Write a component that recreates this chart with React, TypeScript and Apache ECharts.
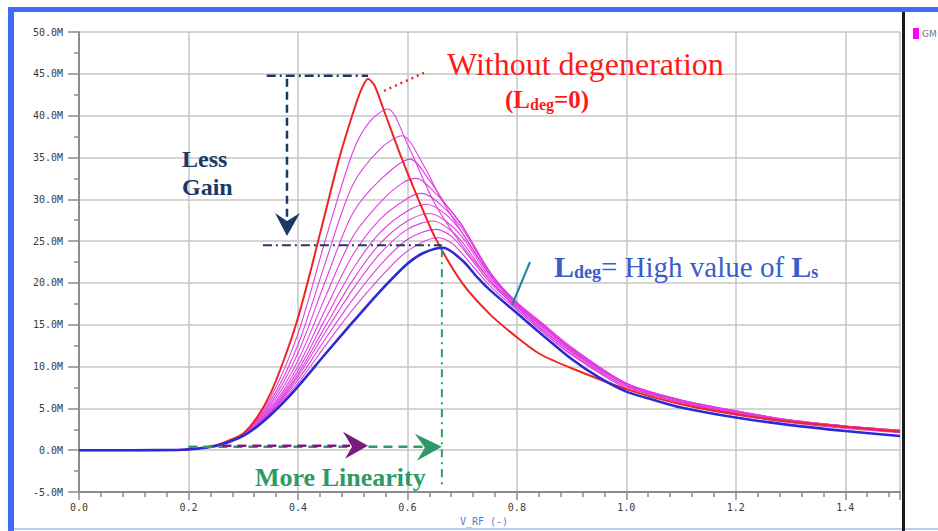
import { useEffect, useRef } from 'react';
import * as echarts from 'echarts';

type Pt = [number, number];

// GM curves (values in M), x = V_RF
const redCurve: Pt[] = [
  [0, 0], [0.1, 0], [0.18, 0.03], [0.2, 0.1], [0.22, 0.25], [0.25, 0.6], [0.275, 1.2], [0.3, 2.0],
  [0.325, 3.9], [0.35, 6.8], [0.375, 10.9], [0.4, 15.8], [0.425, 21.9], [0.45, 28.4], [0.475, 34.8],
  [0.5, 40.2], [0.515, 43.0], [0.528, 44.4], [0.54, 43.6], [0.555, 41.0], [0.589, 35.0], [0.62, 30.0],
  [0.65, 25.5], [0.7, 20.0], [0.75, 16.3], [0.8, 13.5], [0.842, 11.5], [0.9, 9.8], [1.0, 7.3], [1.1, 5.5],
  [1.2, 4.3], [1.3, 3.4], [1.4, 2.8], [1.5, 2.2],
];

const blueCurve: Pt[] = [
  [0, 0], [0.1, 0], [0.18, 0.03], [0.2, 0.08], [0.22, 0.2], [0.25, 0.5], [0.275, 1.0], [0.3, 1.7],
  [0.325, 2.8], [0.35, 4.2], [0.375, 5.8], [0.4, 7.6], [0.45, 11.5], [0.5, 15.3], [0.55, 19.0],
  [0.6, 22.3], [0.63, 23.6], [0.665, 24.2], [0.7, 22.7], [0.73, 20.5], [0.75, 19.2], [0.8, 16.4],
  [0.85, 13.6], [0.9, 10.9], [0.95, 8.7], [1.0, 7.0], [1.05, 6.0], [1.1, 5.1], [1.2, 3.9], [1.3, 3.0],
  [1.4, 2.3], [1.5, 1.7],
];

const magenta1: Pt[] = [
  [0, 0], [0.1, 0], [0.2, 0.1], [0.25, 0.55], [0.3, 1.9], [0.35, 6.3], [0.4, 13.9], [0.45, 25.1],
  [0.5, 35.6], [0.53, 39.2], [0.564, 40.8], [0.6, 36.6], [0.65, 29.5], [0.7, 24.5], [0.75, 20.4],
  [0.8, 16.9], [0.85, 14.0], [0.9, 11.5], [1.0, 7.6], [1.1, 5.7], [1.2, 4.4], [1.3, 3.4], [1.4, 2.7], [1.5, 2.2],
];
const magenta2: Pt[] = [
  [0, 0], [0.1, 0], [0.2, 0.1], [0.25, 0.55], [0.3, 1.9], [0.35, 5.9], [0.4, 12.6], [0.45, 22.4],
  [0.5, 31.7], [0.55, 36.0], [0.59, 37.6], [0.63, 34.0], [0.66, 30.2], [0.7, 26.0], [0.75, 21.0],
  [0.8, 17.2], [0.85, 14.3], [0.9, 11.8], [1.0, 7.8], [1.1, 5.8], [1.2, 4.5], [1.3, 3.5], [1.4, 2.8], [1.5, 2.3],
];
const magenta3: Pt[] = [
  [0, 0], [0.1, 0], [0.2, 0.1], [0.25, 0.55], [0.3, 1.85], [0.35, 5.6], [0.4, 11.6], [0.45, 20.2],
  [0.5, 28.3], [0.55, 32.3], [0.605, 34.8], [0.64, 32.3], [0.67, 29.4], [0.7, 26.8], [0.75, 21.4],
  [0.8, 17.4], [0.85, 14.6], [0.9, 12.0], [1.0, 7.9], [1.1, 5.9], [1.2, 4.6], [1.3, 3.6], [1.4, 2.9], [1.5, 2.35],
];
const magenta4: Pt[] = [
  [0, 0], [0.1, 0], [0.2, 0.1], [0.25, 0.55], [0.3, 1.8], [0.35, 5.3], [0.4, 10.7], [0.45, 18.3],
  [0.5, 25.5], [0.55, 29.6], [0.59, 31.9], [0.617, 32.5], [0.65, 30.8], [0.675, 29.0], [0.7, 26.9],
  [0.75, 21.4], [0.8, 17.6], [0.85, 14.8], [0.9, 12.2], [1.0, 8.0], [1.1, 6.0], [1.2, 4.7], [1.3, 3.6],
  [1.4, 2.9], [1.5, 2.4],
];
const magenta5: Pt[] = [
  [0, 0], [0.1, 0], [0.2, 0.1], [0.25, 0.55], [0.3, 1.8], [0.35, 5.0], [0.4, 10.0], [0.45, 16.8],
  [0.5, 23.3], [0.55, 27.6], [0.6, 30.1], [0.627, 30.7], [0.66, 29.4], [0.7, 26.5], [0.75, 21.2],
  [0.8, 17.7], [0.85, 15.0], [0.9, 12.3], [1.0, 8.0], [1.1, 6.0], [1.2, 4.7], [1.3, 3.6], [1.4, 2.9], [1.5, 2.4],
];
const magenta6: Pt[] = [
  [0, 0], [0.1, 0], [0.2, 0.1], [0.25, 0.55], [0.3, 1.8], [0.35, 4.9], [0.4, 9.5], [0.45, 15.7],
  [0.5, 21.6], [0.55, 26.0], [0.6, 28.6], [0.635, 29.4], [0.67, 28.2], [0.7, 26.0], [0.75, 21.0],
  [0.8, 17.6], [0.85, 14.9], [0.9, 12.2], [1.0, 8.0], [1.1, 6.0], [1.2, 4.7], [1.3, 3.6], [1.4, 2.9], [1.5, 2.4],
];
const magenta7: Pt[] = [
  [0, 0], [0.1, 0], [0.2, 0.1], [0.25, 0.55], [0.3, 1.75], [0.35, 4.7], [0.4, 9.1], [0.45, 14.8],
  [0.5, 20.3], [0.55, 24.7], [0.6, 27.4], [0.641, 28.3], [0.67, 27.4], [0.7, 25.5], [0.75, 20.7],
  [0.8, 17.5], [0.85, 14.7], [0.9, 12.1], [1.0, 7.9], [1.1, 5.9], [1.2, 4.6], [1.3, 3.5], [1.4, 2.8], [1.5, 2.3],
];
const magenta8: Pt[] = [
  [0, 0], [0.1, 0], [0.2, 0.1], [0.25, 0.55], [0.3, 1.75], [0.35, 4.6], [0.4, 8.8], [0.45, 14.1],
  [0.5, 19.2], [0.55, 23.5], [0.6, 26.4], [0.647, 27.4], [0.675, 26.5], [0.7, 24.9], [0.75, 20.4],
  [0.8, 17.3], [0.85, 14.5], [0.9, 11.9], [1.0, 7.8], [1.1, 5.8], [1.2, 4.5], [1.3, 3.5], [1.4, 2.8], [1.5, 2.3],
];
const magenta9: Pt[] = [
  [0, 0], [0.1, 0], [0.2, 0.1], [0.25, 0.55], [0.3, 1.75], [0.35, 4.5], [0.4, 8.4], [0.45, 13.3],
  [0.5, 18.0], [0.55, 22.1], [0.6, 25.2], [0.653, 26.4], [0.68, 25.6], [0.7, 24.2], [0.75, 20.1],
  [0.8, 17.1], [0.85, 14.2], [0.9, 11.7], [1.0, 7.6], [1.1, 5.7], [1.2, 4.4], [1.3, 3.4], [1.4, 2.7], [1.5, 2.2],
];
const magenta10: Pt[] = [
  [0, 0], [0.1, 0], [0.2, 0.1], [0.25, 0.55], [0.3, 1.7], [0.35, 4.4], [0.4, 8.0], [0.45, 12.5],
  [0.5, 16.8], [0.55, 20.6], [0.6, 23.8], [0.656, 25.4], [0.68, 24.8], [0.7, 23.5], [0.75, 19.7],
  [0.8, 16.8], [0.85, 14.0], [0.9, 11.4], [1.0, 7.4], [1.1, 5.5], [1.2, 4.2], [1.3, 3.3], [1.4, 2.6], [1.5, 2.1],
];
const magentaCurves = [magenta1, magenta2, magenta3, magenta4, magenta5, magenta6, magenta7, magenta8, magenta9, magenta10];

// axis ranges
const xRange = [0, 1.5];
const yRange = [-5, 50];

// annotation anchors (data coords)
const redPeak: Pt = [0.528, 44.4];
const bluePeak: Pt = [0.663, 24.5];
const arrowLevel = 0.4;

export default function App() {
  const ref = useRef<HTMLDivElement>(null);
  useEffect(() => {
    const chart = echarts.init(ref.current!, null, { renderer: 'svg' });
    const axisGray = '#8c8c8c';
    const gridGray = '#c6c6c6';
    const labelFont = { color: '#3a3a3a', fontFamily: 'DejaVu Sans Mono', fontSize: 10 };
    const series: any[] = [];
    magentaCurves.forEach((c, i) => {
      series.push({
        name: 'GM' + (i + 1), type: 'line', data: c, showSymbol: false, symbol: 'none', smooth: 0.3,
        silent: true, lineStyle: { color: '#e03ee0', width: 1.1 }, z: 2,
      });
    });
    series.push({
      name: 'red', type: 'line', data: redCurve, showSymbol: false, symbol: 'none', smooth: 0.25, silent: true,
      lineStyle: { color: '#f02424', width: 2 }, z: 3,
    });
    series.push({
      name: 'blue', type: 'line', data: blueCurve, showSymbol: false, symbol: 'none', smooth: 0.3, silent: true,
      lineStyle: { color: '#2a2ad6', width: 2.6 }, z: 4,
    });
    chart.setOption({
      animation: false,
      backgroundColor: '#ffffff',
      grid: { left: 79, top: 32, width: 821, height: 460, containLabel: false },
      xAxis: {
        type: 'value', min: xRange[0], max: xRange[1], interval: 0.2,
        axisLine: { onZero: false, lineStyle: { color: axisGray, width: 2 } },
        axisTick: { show: true, length: 8, lineStyle: { color: axisGray, width: 1.5 } },
        minorTick: { show: true, splitNumber: 5, length: 5, lineStyle: { color: axisGray, width: 1.5 } },
        splitLine: { show: true, lineStyle: { color: gridGray, width: 1.5 } },
        axisLabel: { ...labelFont, margin: 10, showMaxLabel: false, formatter: (v: number) => v.toFixed(1) },
      },
      yAxis: {
        type: 'value', min: yRange[0], max: yRange[1], interval: 5,
        axisLine: { onZero: false, lineStyle: { color: axisGray, width: 2 } },
        axisTick: { show: true, length: 11, lineStyle: { color: axisGray, width: 1.5 } },
        minorTick: { show: true, splitNumber: 2, length: 5, lineStyle: { color: axisGray, width: 1.5 } },
        splitLine: { show: true, lineStyle: { color: gridGray, width: 1.5 } },
        axisLabel: { ...labelFont, margin: 16, formatter: (v: number) => v.toFixed(1) + 'M' },
      },
      series,
    });

    const px = (p: Pt) => chart.convertToPixel({ gridIndex: 0 }, p) as number[];
    const rp = px(redPeak);
    const bp = px(bluePeak);
    const navyLeft = px([0.343, redPeak[1]]);
    const navyVx = px([0.38, 0])[0];
    const navyTip = px([0.38, 25.6])[1];
    const blueLeft = px([0.336, bluePeak[1]]);
    const arrowY = px([0, arrowLevel])[1];
    const greenStart = px([0.2, arrowLevel])[0];
    const purpleStart = px([0.262, arrowLevel])[0];
    const greenBottom = px([0, -4.1])[1];
    const navy = '#1c3966';
    const green = '#2e9a68';
    const purple = '#7a1c7c';
    const serif = 'Liberation Serif';

    const graphic: any[] = [
      // frame
      { type: 'rect', shape: { x: 8, y: 7, width: 930, height: 5 }, style: { fill: '#3c6df4' }, z: 50 },
      { type: 'rect', shape: { x: 8, y: 7, width: 6, height: 524 }, style: { fill: '#3c6df4' }, z: 50 },
      { type: 'rect', shape: { x: 14, y: 528, width: 924, height: 2 }, style: { fill: '#b9cbf6' }, z: 50 },
      { type: 'rect', shape: { x: 902, y: 12, width: 3, height: 519 }, style: { fill: '#1a1a1a' }, z: 50 },
      // legend
      { type: 'rect', shape: { x: 913, y: 28, width: 6, height: 11 }, style: { fill: '#ff00ff' }, z: 50 },
      { type: 'text', x: 922, y: 34, style: { text: 'GM', fill: '#777', font: '9px DejaVu Sans', textVerticalAlign: 'middle' }, z: 50 },
      // axis name
      { type: 'text', x: 484, y: 521, style: { text: 'V_RF (-)', fill: '#4a80d2', font: '10px DejaVu Sans Mono', textAlign: 'center', textVerticalAlign: 'middle' }, z: 50 },
      // less gain guides
      { type: 'line', shape: { x1: navyLeft[0], y1: rp[1] - 3, x2: rp[0], y2: rp[1] - 3 }, style: { stroke: navy, lineWidth: 2.5, lineDash: [9, 4, 2, 4] }, z: 60 },
      { type: 'line', shape: { x1: navyVx, y1: rp[1], x2: navyVx, y2: navyTip - 14 }, style: { stroke: navy, lineWidth: 2.5, lineDash: [8, 5] }, z: 60 },
      { type: 'polygon', shape: { points: [[navyVx, navyTip], [navyVx - 12, navyTip - 23], [navyVx, navyTip - 15], [navyVx + 13, navyTip - 23]] }, style: { fill: navy }, z: 60 },
      { type: 'line', shape: { x1: blueLeft[0], y1: bp[1], x2: bp[0], y2: bp[1] }, style: { stroke: navy, lineWidth: 2.2, lineDash: [9, 4, 2, 4] }, z: 60 },
      // red dotted pointer
      { type: 'line', shape: { x1: rp[0] + 16, y1: rp[1] + 12, x2: rp[0] + 56, y2: rp[1] - 6 }, style: { stroke: '#f02424', lineWidth: 2.5, lineDash: [2, 4] }, z: 60 },
      // green vertical guide
      { type: 'line', shape: { x1: bp[0], y1: bp[1] + 4, x2: bp[0], y2: greenBottom }, style: { stroke: green, lineWidth: 2, lineDash: [8, 5, 2, 5] }, z: 60 },
      // linearity arrows
      { type: 'line', shape: { x1: greenStart, y1: arrowY, x2: bp[0] - 18, y2: arrowY }, style: { stroke: green, lineWidth: 2.5, lineDash: [9, 6] }, z: 60 },
      { type: 'polygon', shape: { points: [[bp[0], arrowY], [bp[0] - 27, arrowY - 13], [bp[0] - 17, arrowY + 1], [bp[0] - 25, arrowY + 14]] }, style: { fill: green }, z: 60 },
      { type: 'line', shape: { x1: purpleStart, y1: arrowY - 1, x2: rp[0] - 18, y2: arrowY - 1 }, style: { stroke: purple, lineWidth: 2.5, lineDash: [9, 6] }, z: 61 },
      { type: 'polygon', shape: { points: [[rp[0], arrowY - 1], [rp[0] - 25, arrowY - 15], [rp[0] - 16, arrowY], [rp[0] - 23, arrowY + 12]] }, style: { fill: purple }, z: 61 },
      // blue pointer
      { type: 'line', shape: { x1: 512, y1: 305, x2: 530, y2: 262 }, style: { stroke: '#1f82a2', lineWidth: 2 }, z: 60 },
      // texts
      { type: 'text', x: 447, y: 64, style: { text: 'Without degeneration', fill: '#ff1a1a', font: `32px "${serif}"`, textVerticalAlign: 'middle' }, z: 70 },
      {
        type: 'text', x: 505, y: 98,
        style: {
          text: '{a|(L}{b|deg}{a|=0)}', fill: '#ff1a1a', textVerticalAlign: 'middle',
          rich: {
            a: { fontFamily: serif, fontSize: 25, fontWeight: 'bold', lineHeight: 28, verticalAlign: 'bottom', fill: '#ff1a1a' },
            b: { fontFamily: serif, fontSize: 16, fontWeight: 'bold', lineHeight: 15, verticalAlign: 'bottom', fill: '#ff1a1a' },
          },
        }, z: 70,
      },
      { type: 'text', x: 182, y: 159, style: { text: 'Less', fill: navy, font: `bold 24px "${serif}"`, textVerticalAlign: 'middle' }, z: 70 },
      { type: 'text', x: 182, y: 187, style: { text: 'Gain', fill: navy, font: `bold 24px "${serif}"`, textVerticalAlign: 'middle' }, z: 70 },
      {
        type: 'text', x: 554, y: 264,
        style: {
          text: '{a|L}{b|deg}{c|= High value of }{a|L}{b|s}', fill: '#3a5ccc', textVerticalAlign: 'middle',
          rich: {
            a: { fontFamily: serif, fontSize: 30, fontWeight: 'bold', lineHeight: 34, verticalAlign: 'bottom', fill: '#3a5ccc' },
            b: { fontFamily: serif, fontSize: 18, fontWeight: 'bold', lineHeight: 18, verticalAlign: 'bottom', fill: '#3a5ccc' },
            c: { fontFamily: serif, fontSize: 29, lineHeight: 34, verticalAlign: 'bottom', fill: '#3a5ccc' },
          },
        }, z: 70,
      },
      { type: 'text', x: 255, y: 477, style: { text: 'More Linearity', fill: green, font: `bold 26px "${serif}"`, textVerticalAlign: 'middle' }, z: 70 },
    ];
    chart.setOption({ graphic });
    return () => chart.dispose();
  }, []);
  return <div ref={ref} style={{ position: 'absolute', left: 0, top: 0, width: 938, height: 531, background: '#fff' }} />;
}
